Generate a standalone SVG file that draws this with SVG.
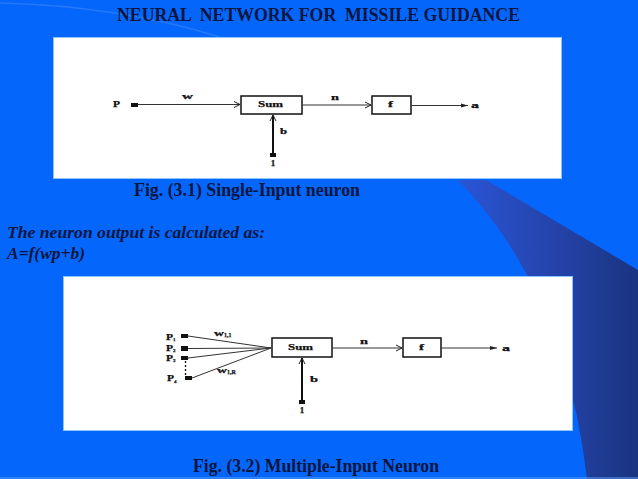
<svg xmlns="http://www.w3.org/2000/svg" width="638" height="479" viewBox="0 0 638 479">
<style>
.bg{fill:#0566fb}
.panel{fill:#ffffff;stroke:#8cc4ff;stroke-width:1}
.t{font-family:"Liberation Serif","Times New Roman",serif;font-weight:bold;fill:#0b1640}
.ti{font-family:"Liberation Serif","Times New Roman",serif;font-weight:bold;font-style:italic;fill:#0b1640}
.lbl{font-family:"Liberation Serif","Times New Roman",serif;font-weight:bold;fill:#111;font-size:9px;stroke:#111;stroke-width:0.25}
.box{fill:#fff;stroke:#111;stroke-width:1.5}
.ln{stroke:#333;stroke-width:1;fill:none}
.thick{stroke:#111;stroke-width:2;fill:none}
.sq{fill:#111}
</style>
<defs>
<linearGradient id="sw" x1="0" y1="0" x2="1" y2="0">
<stop offset="0" stop-color="#2a55d6"/>
<stop offset="0.55" stop-color="#2443aa"/>
<stop offset="1" stop-color="#1a3480"/>
</linearGradient>
<marker id="op" markerWidth="8" markerHeight="8" refX="7" refY="4" orient="auto" markerUnits="userSpaceOnUse">
<path d="M1,1 L7,4 L1,7" fill="none" stroke="#222" stroke-width="1"/>
</marker>
<marker id="fa" markerWidth="8" markerHeight="6" refX="7" refY="3" orient="auto" markerUnits="userSpaceOnUse">
<path d="M0,1 L7,3 L0,5 Z" fill="#222"/>
</marker>
</defs>
<rect class="bg" x="0" y="0" width="638" height="479"/>
<path d="M0,3 Q120,6 220,37" fill="none" stroke="#3a86ff" stroke-width="1.5" opacity="0.6"/>
<path d="M458,180 L486,180 L638,270 L638,479 L587,479 Q565,290 458,180 Z" fill="url(#sw)"/>
<line x1="0" y1="478" x2="638" y2="478" stroke="#5aa0ff" stroke-width="1"/>
<text class="t" x="117" y="21" font-size="18" style="white-space:pre" xml:space="preserve" textLength="403" lengthAdjust="spacingAndGlyphs">NEURAL  NETWORK FOR  MISSILE GUIDANCE</text>
<rect class="panel" x="53.5" y="37.5" width="508" height="141"/>
<g id="fig1">
<g id="p1node"><text class="lbl" x="113" y="107" textLength="7" lengthAdjust="spacingAndGlyphs">P</text><rect class="sq" x="131" y="103" width="7" height="4"/></g>
<g id="sum1"><rect class="box" x="241" y="96" width="61" height="18"/><text class="lbl" x="258" y="107" font-size="8" textLength="25" lengthAdjust="spacingAndGlyphs">Sum</text></g>
<g id="f1"><rect class="box" x="372" y="96" width="39" height="18"/><text class="lbl" x="388" y="107" textLength="5" lengthAdjust="spacingAndGlyphs">f</text></g>
<g id="one1"><rect class="sq" x="270" y="153" width="6" height="4"/><text class="lbl" x="273" y="166" text-anchor="middle">1</text></g>
<g id="conn1">
<line class="ln" x1="138" y1="104.5" x2="240" y2="104.5" marker-end="url(#op)"/>
<line class="ln" x1="302" y1="105" x2="371" y2="105" marker-end="url(#op)"/>
<line class="ln" x1="411" y1="105.5" x2="468" y2="105.5" marker-end="url(#fa)"/>
<line class="thick" x1="273" y1="154" x2="273" y2="115" marker-end="url(#op)"/>
</g>
<text class="lbl" x="182" y="99" textLength="11" lengthAdjust="spacingAndGlyphs">w</text>
<text class="lbl" x="331" y="100" textLength="8" lengthAdjust="spacingAndGlyphs">n</text>
<text class="lbl" x="280" y="134" textLength="7" lengthAdjust="spacingAndGlyphs">b</text>
<text class="lbl" x="471" y="107.5" textLength="8" lengthAdjust="spacingAndGlyphs">a</text>
</g>
<text class="t" x="134" y="196" font-size="18" textLength="226" lengthAdjust="spacingAndGlyphs">Fig. (3.1) Single-Input neuron</text>
<text class="ti" x="7" y="238" font-size="17" textLength="258" lengthAdjust="spacingAndGlyphs">The neuron output is calculated as:</text>
<text class="ti" x="7" y="259" font-size="17" textLength="78" lengthAdjust="spacingAndGlyphs">A=f(wp+b)</text>
<rect class="panel" x="63.5" y="276.5" width="509" height="154"/>
<g id="fig2">
<g id="inputs">
<rect class="sq" x="181" y="334" width="7" height="4"/>
<rect class="sq" x="181" y="346" width="7" height="5"/>
<rect class="sq" x="181" y="356" width="7" height="4"/>
<rect class="sq" x="185" y="376" width="7" height="4"/>
<text class="lbl" x="166" y="339.5"><tspan textLength="7" lengthAdjust="spacingAndGlyphs">P</tspan><tspan font-size="5" dy="1.5">1</tspan></text>
<text class="lbl" x="166" y="350.5"><tspan textLength="7" lengthAdjust="spacingAndGlyphs">P</tspan><tspan font-size="5" dy="1.5">2</tspan></text>
<text class="lbl" x="166" y="360.5"><tspan textLength="7" lengthAdjust="spacingAndGlyphs">P</tspan><tspan font-size="5" dy="1.5">3</tspan></text>
<text class="lbl" x="167" y="381"><tspan textLength="7" lengthAdjust="spacingAndGlyphs">P</tspan><tspan font-size="5" dy="1.5">4</tspan></text>
</g>
<g id="sum2"><rect class="box" x="272" y="338" width="60" height="19"/><text class="lbl" x="288" y="350" font-size="8" textLength="25" lengthAdjust="spacingAndGlyphs">Sum</text></g>
<g id="f2"><rect class="box" x="403" y="338" width="38" height="19"/><text class="lbl" x="419" y="350" textLength="5" lengthAdjust="spacingAndGlyphs">f</text></g>
<g id="one2"><rect class="sq" x="299" y="400" width="6" height="4"/><text class="lbl" x="302" y="413" text-anchor="middle">1</text></g>
<g id="conn2">
<line class="ln" x1="188" y1="336" x2="271" y2="348"/>
<line class="ln" x1="188" y1="348.5" x2="271" y2="348"/>
<line class="ln" x1="188" y1="358" x2="271" y2="348"/>
<line class="ln" x1="192" y1="378" x2="271" y2="348"/>
<line x1="185.5" y1="361" x2="185.5" y2="376" stroke="#111" stroke-width="1.3" stroke-dasharray="2,2"/>
<line class="ln" x1="332" y1="348" x2="402" y2="348" marker-end="url(#op)"/>
<line class="ln" x1="441" y1="348" x2="497" y2="348" marker-end="url(#fa)"/>
<line class="thick" x1="302" y1="401" x2="302" y2="358" marker-end="url(#op)"/>
</g>
<text class="lbl" x="214" y="336"><tspan textLength="10" lengthAdjust="spacingAndGlyphs">w</tspan><tspan font-size="6" dy="1">1,1</tspan></text>
<text class="lbl" x="217" y="373"><tspan textLength="10" lengthAdjust="spacingAndGlyphs">w</tspan><tspan font-size="6" dy="1">1,R</tspan></text>
<text class="lbl" x="360" y="344" textLength="8" lengthAdjust="spacingAndGlyphs">n</text>
<text class="lbl" x="310" y="382" textLength="8" lengthAdjust="spacingAndGlyphs">b</text>
<text class="lbl" x="502" y="351" textLength="8" lengthAdjust="spacingAndGlyphs">a</text>
</g>
<text class="t" x="193" y="472" font-size="18" textLength="246" lengthAdjust="spacingAndGlyphs">Fig. (3.2) Multiple-Input Neuron</text>
</svg>
